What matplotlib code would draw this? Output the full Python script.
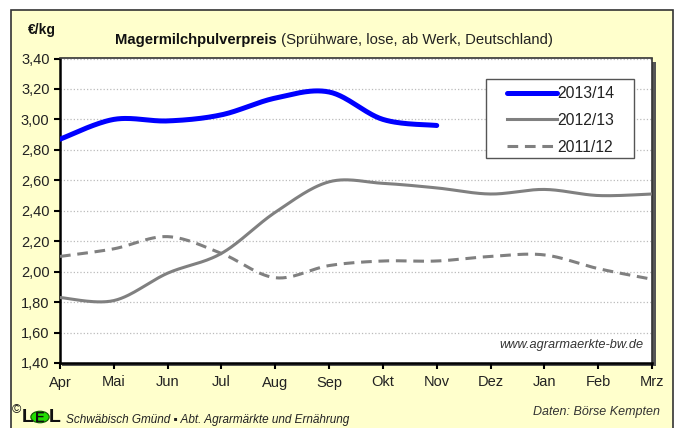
import numpy as np
import matplotlib.pyplot as plt
from matplotlib.patches import Rectangle, Circle

# Monatswerte (€/kg), Wirtschaftsjahr April bis März
months = ['Apr', 'Mai', 'Jun', 'Jul', 'Aug', 'Sep', 'Okt', 'Nov', 'Dez', 'Jan', 'Feb', 'Mrz']
price_1314 = [2.87, 3.00, 2.99, 3.03, 3.14, 3.18, 3.00, 2.96]
price_1213 = [1.83, 1.81, 1.99, 2.12, 2.39, 2.59, 2.58, 2.55, 2.51, 2.54, 2.50, 2.51]
price_1112 = [2.10, 2.15, 2.23, 2.12, 1.96, 2.04, 2.07, 2.07, 2.10, 2.11, 2.02, 1.95]
yticks = [1.40, 1.60, 1.80, 2.00, 2.20, 2.40, 2.60, 2.80, 3.00, 3.20, 3.40]


def smooth(y, n=30):
    # Excel-artige Glättung (Bezier mit Catmull-Rom-Kontrollpunkten)
    y = np.asarray(y, float)
    x = np.arange(len(y), dtype=float)
    px, py = [], []
    for i in range(len(y) - 1):
        x0, y0 = (x[i - 1], y[i - 1]) if i > 0 else (x[i], y[i])
        x3, y3 = (x[i + 2], y[i + 2]) if i + 2 < len(y) else (x[i + 1], y[i + 1])
        c1x = x[i] + (x[i + 1] - x0) / 6
        c1y = y[i] + (y[i + 1] - y0) / 6
        c2x = x[i + 1] - (x3 - x[i]) / 6
        c2y = y[i + 1] - (y3 - y[i]) / 6
        t = np.linspace(0, 1, n)
        b0, b1, b2, b3 = (1 - t) ** 3, 3 * t * (1 - t) ** 2, 3 * t ** 2 * (1 - t), t ** 3
        px.extend(b0 * x[i] + b1 * c1x + b2 * c2x + b3 * x[i + 1])
        py.extend(b0 * y[i] + b1 * c1y + b2 * c2y + b3 * y[i + 1])
    return px, py


bg = '#FFFFCC'
plt.rcParams['font.family'] = ['Liberation Sans', 'DejaVu Sans']
fig = plt.figure(figsize=(6.78, 4.28), dpi=100)

# gelber Hintergrund mit Rahmen
fig.patches.append(Rectangle((11 / 678, -0.1), 662 / 678, 1.1 - 10 / 428, transform=fig.transFigure,
                             facecolor=bg, edgecolor='#333333', lw=1.2, zorder=-2))
# Schatten rechts/unten
fig.patches.append(Rectangle((62 / 678, 1 - 365.5 / 428), 593.5 / 678, 304 / 428, transform=fig.transFigure,
                             facecolor='#555555', edgecolor='none', zorder=-1))

ax = fig.add_axes([60 / 678, 1 - 363 / 428, 592 / 678, 304.5 / 428])
ax.set_facecolor('white')


def axc(px, py):
    return (px - 60) / 592, 1 - (py - 58.5) / 304.5


x, y = smooth(price_1314)
ax.plot(x, y, color='#0000FF', lw=3.6, solid_capstyle='round', label='2013/14', zorder=4)
x, y = smooth(price_1213)
ax.plot(x, y, color='#808080', lw=2.2, label='2012/13', zorder=3)
x, y = smooth(price_1112)
ax.plot(x, y, color='#808080', lw=2.2, ls=(0, (3.5, 2.2)), label='2011/12', zorder=3)

ax.set_xlim(0, len(months) - 1)
ax.set_ylim(1.40, 3.40)
ax.set_xticks(range(len(months)))
ax.set_xticklabels(months)
ax.set_yticks(yticks)
ax.set_yticklabels([f'{v:.2f}'.replace('.', ',') for v in yticks])
ax.tick_params(axis='both', labelsize=10.5, colors='black', length=4, width=1.5, labelcolor='#222222')
ax.tick_params(axis='x', pad=5)
ax.grid(axis='y', color='#BBBBBB', ls=':', lw=0.9)
ax.set_axisbelow(True)
for s in ['left', 'bottom']:
    ax.spines[s].set_linewidth(1.8)
    ax.spines[s].set_color('black')
for s in ['top', 'right']:
    ax.spines[s].set_linewidth(1.2)
    ax.spines[s].set_color('#333333')

# Legendenrahmen
x0, y0 = axc(485.7, 158.3)
x1, y1 = axc(634, 79.3)
ax.add_patch(Rectangle((x0, y0), x1 - x0, y1 - y0, transform=ax.transAxes, facecolor='white',
                       edgecolor='#555555', lw=1.0, zorder=5))
leg = ax.legend(loc='upper left', bbox_to_anchor=axc(507, 86), fontsize=11.3,
                frameon=False, handlelength=3.18, handletextpad=0.0,
                labelspacing=0.75, borderpad=0, borderaxespad=0)
leg.set_zorder(6)
for t in leg.get_texts():
    t.set_color('#222222')

ax.text(0.985, 0.06, 'www.agrarmaerkte-bw.de', transform=ax.transAxes, ha='right', va='center',
        fontsize=9.2, style='italic', color='#333333')

fig.text(28 / 678, 1 - 30 / 428, '€/kg', fontsize=10, fontweight='bold', va='center', color='#111111')
t1 = fig.text(115 / 678, 1 - 40 / 428, 'Magermilchpulverpreis', fontsize=10.7, fontweight='bold',
              va='center', color='#111111')
ax.annotate(' (Sprühware, lose, ab Werk, Deutschland)', xy=(1, 0.5), xycoords=t1, va='center',
            fontsize=10.7, color='#222222', annotation_clip=False)

fig.text(660 / 678, 1 - 412 / 428, 'Daten: Börse Kempten', ha='right', va='center', fontsize=9,
         style='italic', color='#333333')

# Logo LEL und Fußzeile
fig.text(12 / 678, 1 - 410 / 428, '©', fontsize=9, va='center', color='#111111')
fig.text(22 / 678, 1 - 418 / 428, 'L', fontsize=14, fontweight='bold', va='center', color='#111111')
fig.patches.append(Circle((40 / 678, 1 - 417 / 428), 0.0135, transform=fig.transFigure,
                          facecolor='#22DD00', edgecolor='#115500', lw=0.8, zorder=2))
fig.text(40 / 678, 1 - 418 / 428, 'E', fontsize=10.5, fontweight='bold', va='center', ha='center',
         color='#111111')
fig.text(49 / 678, 1 - 418 / 428, 'L', fontsize=14, fontweight='bold', va='center', color='#111111')
fig.text(66 / 678, 1 - 420 / 428, 'Schwäbisch Gmünd ▪ Abt. Agrarmärkte und Ernährung', fontsize=8.5,
         style='italic', va='center', color='#222222')

fig.savefig('out.png', dpi=100, facecolor='white')
